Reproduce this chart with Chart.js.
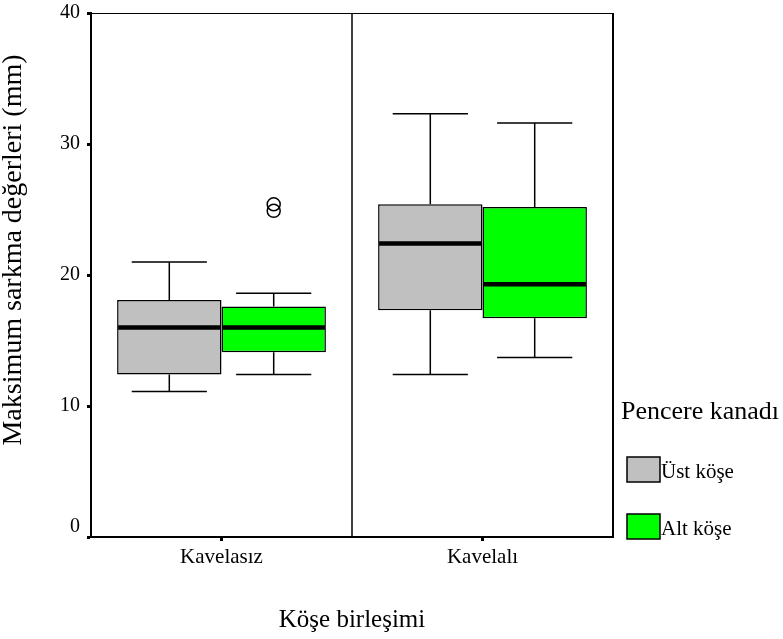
<!DOCTYPE html>
<html>
<head>
<meta charset="utf-8">
<script src="https://cdn.jsdelivr.net/npm/chart.js@4/dist/chart.umd.min.js"></script>
<style>
  html, body { margin: 0; padding: 0; background: #fff; }
  canvas { display: block; }
</style>
</head>
<body>
<canvas id="chart" width="783" height="639"></canvas>
<script>
// Box plot values (mm)
const categories = ['Kavelasız', 'Kavelalı'];

const ustMin    = [11.1, 12.4];
const ustQ1     = [12.4, 17.3];
const ustMedian = [16.0, 22.4];
const ustQ3     = [18.1, 25.4];
const ustMax    = [21.0, 32.3];
const ustOutliers = [[], []];

const altMin    = [12.4, 13.7];
const altQ1     = [14.1, 16.7];
const altMedian = [16.0, 19.3];
const altQ3     = [17.6, 25.2];
const altMax    = [18.6, 31.6];
const altOutliers = [[25.4, 24.9], []];

const yTicks = [0, 10, 20, 30, 40];

const FONT = '"Liberation Serif", "Times New Roman", serif';

const stats = [
    { min: ustMin, median: ustMedian, max: ustMax, outliers: ustOutliers },
    { min: altMin, median: altMedian, max: altMax, outliers: altOutliers },
];

// whiskers, medians, outliers, frame and divider drawn on the library's scales
const boxExtras = {
    id: 'boxExtras',
    afterDatasetsDraw(chart) {
        const { ctx, chartArea: a, scales: { x, y } } = chart;
        ctx.save();
        ctx.strokeStyle = '#000';

        // frame top + right, category divider
        ctx.lineWidth = 1;
        ctx.beginPath();
        ctx.moveTo(a.left, a.top + 0.5);
        ctx.lineTo(a.right, a.top + 0.5);
        ctx.stroke();
        ctx.lineWidth = 2;
        ctx.beginPath();
        ctx.moveTo(a.right, a.top);
        ctx.lineTo(a.right, a.bottom);
        ctx.stroke();
        const mid = (x.getPixelForValue(0) + x.getPixelForValue(1)) / 2;
        ctx.lineWidth = 1.5;
        ctx.beginPath();
        ctx.moveTo(mid, a.top);
        ctx.lineTo(mid, a.bottom);
        ctx.stroke();

        stats.forEach((s, i) => {
            const meta = chart.getDatasetMeta(i);
            meta.data.forEach((bar, j) => {
                const cx = bar.x;
                const half = bar.width / 2;
                const cap = bar.width * 0.36;
                const lo = Math.max(bar.y, bar.base);
                const hi = Math.min(bar.y, bar.base);
                const yMin = y.getPixelForValue(s.min[j]);
                const yMax = y.getPixelForValue(s.max[j]);

                ctx.lineWidth = 1.5;
                ctx.beginPath();
                ctx.moveTo(cx, hi); ctx.lineTo(cx, yMax);
                ctx.moveTo(cx - cap, yMax); ctx.lineTo(cx + cap, yMax);
                ctx.moveTo(cx, lo); ctx.lineTo(cx, yMin);
                ctx.moveTo(cx - cap, yMin); ctx.lineTo(cx + cap, yMin);
                ctx.stroke();

                const yMed = y.getPixelForValue(s.median[j]);
                ctx.lineWidth = 4.5;
                ctx.beginPath();
                ctx.moveTo(cx - half + 1, yMed);
                ctx.lineTo(cx + half - 1, yMed);
                ctx.stroke();

                ctx.lineWidth = 1.5;
                s.outliers[j].forEach(v => {
                    ctx.beginPath();
                    ctx.arc(cx, y.getPixelForValue(v), 6.5, 0, Math.PI * 2);
                    ctx.stroke();
                });
            });
        });
        ctx.restore();
    },
};

// y title and legend block on the right
const sideText = {
    id: 'sideText',
    afterDraw(chart) {
        const { ctx, chartArea: a } = chart;
        ctx.save();
        ctx.fillStyle = '#000';
        ctx.textBaseline = 'alphabetic';

        ctx.save();
        ctx.translate(21, 250);
        ctx.rotate(-Math.PI / 2);
        ctx.textAlign = 'center';
        ctx.font = '28px ' + FONT;
        ctx.fillText('Maksimum sarkma değerleri (mm)', 0, 0);
        ctx.restore();

        ctx.textAlign = 'left';
        ctx.font = '26px ' + FONT;
        ctx.fillText('Pencere kanadı', a.right + 8, a.bottom - 118);

        ctx.font = '21px ' + FONT;
        chart.data.datasets.forEach((ds, i) => {
            const top = a.bottom - 80 + i * 57;
            ctx.fillStyle = ds.backgroundColor;
            ctx.fillRect(a.right + 14, top, 33, 25);
            ctx.strokeStyle = '#000';
            ctx.lineWidth = 1.5;
            ctx.strokeRect(a.right + 14, top, 33, 25);
            ctx.fillStyle = '#000';
            ctx.fillText(ds.label, a.right + 48, top + 21);
        });
        ctx.restore();
    },
};

new Chart(document.getElementById('chart'), {
    type: 'bar',
    data: {
        labels: categories,
        datasets: [
            {
                label: 'Üst köşe',
                data: ustQ1.map((q, i) => [q, ustQ3[i]]),
                backgroundColor: '#c0c0c0',
                borderColor: '#000',
                borderWidth: 1.5,
                borderSkipped: false,
            },
            {
                label: 'Alt köşe',
                data: altQ1.map((q, i) => [q, altQ3[i]]),
                backgroundColor: '#00ff00',
                borderColor: '#000',
                borderWidth: 1.5,
                borderSkipped: false,
            },
        ],
    },
    options: {
        responsive: false,
        animation: false,
        events: [],
        categoryPercentage: 0.8,
        barPercentage: 1.0,
        layout: { padding: { top: 13, right: 170, bottom: 2, left: 0 } },
        plugins: {
            legend: { display: false },
            tooltip: { enabled: false },
        },
        scales: {
            x: {
                grid: {
                    offset: false,
                    drawOnChartArea: false,
                    drawTicks: true,
                    tickLength: 4,
                    tickWidth: 3,
                    tickColor: '#000',
                },
                border: { display: true, color: '#000', width: 2 },
                ticks: {
                    color: '#000',
                    font: { family: FONT, size: 21 },
                    padding: 4,
                    maxRotation: 0,
                    autoSkip: false,
                },
                title: {
                    display: true,
                    text: 'Köşe birleşimi',
                    color: '#000',
                    font: { family: FONT, size: 25 },
                    padding: { top: 34, bottom: 2 },
                },
                afterFit(scale) { scale.height = 100; },
            },
            y: {
                min: 0,
                max: 40,
                afterBuildTicks(scale) { scale.ticks = yTicks.map(v => ({ value: v })); },
                grid: {
                    drawOnChartArea: false,
                    drawTicks: true,
                    tickLength: 4,
                    tickWidth: 3,
                    tickColor: '#000',
                },
                border: { display: true, color: '#000', width: 2 },
                ticks: {
                    color: '#000',
                    font: { family: FONT, size: 20, lineHeight: 1.0 },
                    padding: 7,
                    // the 0 label sits just above the axis line
                    callback: (v) => v === 0 ? ['0', ''] : String(v),
                },
                afterFit(scale) {
                    scale.width = 91;
                    scale.paddingTop = 0;
                    scale.paddingBottom = 0;
                },
            },
        },
    },
    plugins: [boxExtras, sideText],
});
</script>
</body>
</html>
